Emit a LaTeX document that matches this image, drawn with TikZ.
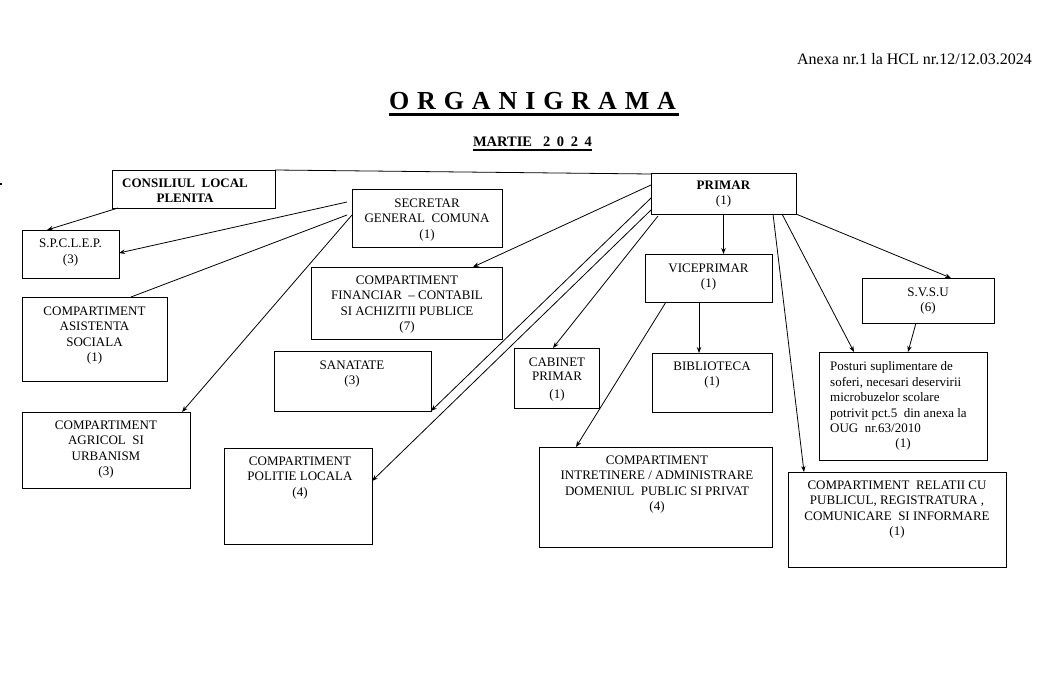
\documentclass[tikz,border=0pt]{standalone}
\usepackage{fontspec}
\setmainfont{Liberation Serif}
\usetikzlibrary{arrows.meta,calc}
\begin{document}
\begin{tikzpicture}[x=1pt,y=-1pt,
  box/.style={draw,line width=0.9pt,rectangle,inner sep=0pt,outer sep=0pt},
  lbl/.style={font=\fontsize{13}{15.5}\selectfont,align=center,inner sep=0pt,anchor=north},
  conn/.style={line width=0.8pt},
  arr/.style={conn,-{Stealth[length=6pt,width=4.5pt]}}]
\useasboundingbox (0,0) rectangle (1052,685);

% header
\node[inner sep=0pt,anchor=base east,font=\fontsize{16}{19}\selectfont] (anexa) at (1032,65) {Anexa nr.1 la HCL nr.12/12.03.2024};
\node[inner sep=0pt,anchor=base,font=\fontsize{26}{30}\selectfont\bfseries] (title) at (532.5,109)
  {\makebox[287pt][s]{O\hfill R\hfill G\hfill A\hfill N\hfill I\hfill G\hfill R\hfill A\hfill M\hfill A}};
\draw[line width=3pt] ($(title.base west)+(0,5)$) -- ($(title.base east)+(3,5)$);
\node[inner sep=0pt,anchor=base,font=\fontsize{14.5}{17}\selectfont\bfseries] (sub) at (532.5,146)
  {\makebox[119pt][s]{MARTIE\hspace{11pt}2\hfill 0\hfill 2\hfill 4}};
\draw[line width=2.3pt] ($(sub.base west)+(0,4)$) -- ($(sub.base east)+(0,4)$);
\node[fill,inner sep=0pt,minimum size=2pt] (dot) at (1,184) {};

% boxes
\node[box,minimum width=163pt,minimum height=38pt] (cons) at (193.5,189) {};
\node[box,minimum width=97pt,minimum height=48pt] (spcl) at (70.5,254) {};
\node[box,minimum width=150pt,minimum height=58pt] (secr) at (427,218) {};
\node[box,minimum width=145pt,minimum height=41pt] (prim) at (723.5,193.5) {};
\node[box,minimum width=191pt,minimum height=72pt] (fin) at (406.5,303) {};
\node[box,minimum width=127pt,minimum height=48pt] (vice) at (708.5,278) {};
\node[box,minimum width=132pt,minimum height=45pt] (svsu) at (928,300.5) {};
\node[box,minimum width=145pt,minimum height=84pt] (asis) at (94.5,339) {};
\node[box,minimum width=168pt,minimum height=76pt] (agr) at (106,450) {};
\node[box,minimum width=157pt,minimum height=60pt] (san) at (352.5,381) {};
\node[box,minimum width=148pt,minimum height=96pt] (pol) at (298,496) {};
\node[box,minimum width=85pt,minimum height=60pt] (cab) at (556.5,378) {};
\node[box,minimum width=120pt,minimum height=59pt] (bib) at (712,382.5) {};
\node[box,minimum width=233pt,minimum height=100pt] (intr) at (655.5,497) {};
\node[box,minimum width=168pt,minimum height=108pt] (post) at (903,406) {};
\node[box,minimum width=218pt,minimum height=95pt] (rel) at (897,519.5) {};

% texts
\node[lbl,font=\fontsize{13}{15.5}\selectfont\bfseries] (tcons) at (185,178.5) {CONSILIUL\ \ LOCAL\\PLENITA};
\node[lbl] (tspcl) at (70.5,238.5) {S.P.C.L.E.P.\\[0.5pt](3)};
\node[lbl] (tsecr) at (427,198.5) {SECRETAR\\GENERAL\ \ COMUNA\\(1)};
\node[lbl] (tprim) at (723.5,180.5) {\textbf{PRIMAR}\\(1)};
\node[lbl] (tfin) at (407,275.5) {COMPARTIMENT\\FINANCIAR\ \ – CONTABIL\\SI ACHIZITII PUBLICE\\(7)};
\node[lbl] (tvice) at (708.5,263.5) {VICEPRIMAR\\(1)};
\node[lbl] (tsvsu) at (928,287.5) {S.V.S.U\\(6)};
\node[lbl] (tasis) at (94.5,306.5) {COMPARTIMENT\\ASISTENTA\\SOCIALA\\(1)};
\node[lbl] (tagr) at (106,420.5) {COMPARTIMENT\\AGRICOL\ \ SI\\URBANISM\\(3)};
\node[lbl] (tsan) at (352,360.5) {SANATATE\\(3)};
\node[lbl] (tpol) at (300,456.5) {COMPARTIMENT\\POLITIE LOCALA\\(4)};
\node[lbl] (tcab) at (557,357.5) {CABINET\\[-1.5pt]PRIMAR\\[2.5pt](1)};
\node[lbl] (tbib) at (712,361.5) {BIBLIOTECA\\(1)};
\node[lbl] (tintr) at (657,455.5) {COMPARTIMENT\\INTRETINERE / ADMINISTRARE\\DOMENIUL\ \ PUBLIC SI PRIVAT\\(4)};
\node[lbl,anchor=north west,align=left] (tpost) at (830,361.5) {Posturi suplimentare de\\soferi, necesari deservirii\\microbuzelor scolare\\potrivit pct.5\ \ din anexa la\\OUG\ \ nr.63/2010};
\node[lbl] (tpost1) at (903,438.5) {(1)};
\node[lbl] (trel) at (897,480.5) {COMPARTIMENT\ \ RELATII CU\\PUBLICUL, REGISTRATURA ,\\COMUNICARE\ \ SI INFORMARE\\(1)};

% connectors
\draw[conn] (cons.north east) -- ($(prim.north west)+(0,1)$);
\draw[arr] ($(cons.south west)+(6,0)$) -- ($(spcl.north west)+(25,0)$);
\draw[arr] ($(secr.west)+(-5,-16)$) -- ($(spcl.east)+(0,-1)$);
\draw[conn] ($(secr.west)+(-5,-3)$) -- ($(asis.north)+(36.5,0)$);
\draw[arr] ($(secr.west)+(0,-3)$) -- ($(agr.north east)+(-8,0)$);
\draw[arr] ($(prim.north west)+(0,12)$) -- ($(fin.north)+(66.5,0)$);
\draw[arr] ($(prim.north west)+(0,25)$) -- (san.south east);
\draw[arr] ($(prim.north west)+(0,37)$) -- ($(pol.east)+(0,-15)$);
\draw[arr] ($(prim.south west)+(7,2)$) -- ($(cab.north)+(-3.5,0)$);
\draw[arr] (prim.south) -- (prim.south |- vice.north);
\coordinate (vb) at ($(vice.south)+(-9.5,0)$);
\draw[arr] (vb) -- (vb |- bib.north);
\draw[arr] ($(vice.south west)+(21,0)$) -- ($(intr.north west)+(37,0)$);
\draw[arr] ($(prim.south east)+(-23,0)$) -- ($(rel.north west)+(16,0)$);
\draw[arr] ($(prim.south east)+(-14,0)$) -- ($(post.north west)+(35,0)$);
\draw[arr] (prim.south east) -- ($(svsu.north)+(23,0)$);
\draw[arr] ($(svsu.south)+(-12,0)$) -- ($(post.north)+(5,0)$);
\end{tikzpicture}
\end{document}
